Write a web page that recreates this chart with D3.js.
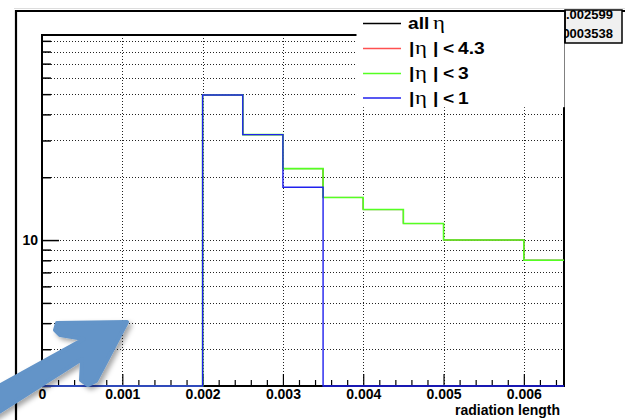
<!DOCTYPE html>
<html>
<head>
<meta charset="utf-8">
<script src="https://cdn.jsdelivr.net/npm/d3@7"></script>
<style>
  html, body { margin: 0; padding: 0; background: #fff; }
  svg { display: block; }
</style>
</head>
<body>
<script>
// Histogram bin edges (radiation length) and bin contents per eta selection
const binEdges = [0, 0.0005, 0.001, 0.0015, 0.002, 0.0025, 0.003, 0.0035, 0.004, 0.0045, 0.005, 0.0055, 0.006, 0.0065];
const allEta   = [0, 0, 0, 0, 49.5, 32, 22, 16, 14, 12, 10, 10, 8];
const eta43    = [0, 0, 0, 0, 49.5, 32, 22, 16, 14, 12, 10, 10, 8];
const eta3     = [0, 0, 0, 0, 49.5, 32, 22, 16, 14, 12, 10, 10, 8];
const eta1     = [0, 0, 0, 0, 49.5, 32, 17.9, 0, 0, 0, 0, 0, 0];

const seriesColors = ["#000000", "#ff5050", "#55ff22", "#2020ee"];
const seriesWidths = [1.0, 1.0, 1.6, 1.4];

const xMajorTicks = [0, 0.001, 0.002, 0.003, 0.004, 0.005, 0.006];
const xMajorLabels = ["0", "0.001", "0.002", "0.003", "0.004", "0.005", "0.006"];
const xMinorTicks = d3.range(1, 33).map(i => i * 0.0002).filter(v => Math.abs(v / 0.001 - Math.round(v / 0.001)) > 1e-6);
const yTicks = [2, 3, 4, 5, 6, 7, 8, 9, 10, 20, 30, 40, 50, 60, 70, 80, 90];
const yLabelled = [10];
const xTitle = "radiation length";
const statsValues = ["0.002599", "0.0003538"];
const legendCuts = [null, "4.3", "3", "1"];

const W = 625, H = 420;
const L = 42, R = 564, T = 35, B = 386;

const svg = d3.select("body").append("svg").attr("width", W).attr("height", H);

const x = d3.scaleLinear().domain([0, 0.0065]).range([L, R]);
const y = d3.scaleLog().domain([2, 96]).range([B, T]);

const sans = "'Liberation Sans', Arial, Helvetica, sans-serif";
const serif = "'Liberation Serif', 'Times New Roman', serif";

// outer canvas frame
svg.append("line").attr("x1", 14).attr("x2", W).attr("y1", 8.5).attr("y2", 8.5)
  .attr("stroke", "#dddddd").attr("stroke-width", 1);
svg.append("path").attr("d", `M16,${H} V11 H${W}`)
  .attr("fill", "none").attr("stroke", "#000").attr("stroke-width", 2.2);

// grid
const grid = svg.append("g").attr("stroke", "#222").attr("stroke-width", 1).attr("stroke-dasharray", "1,2");
grid.selectAll("line.gx").data(xMajorTicks.filter(d => d > 0)).join("line")
  .attr("x1", d => Math.round(x(d)) + 0.5).attr("x2", d => Math.round(x(d)) + 0.5)
  .attr("y1", T).attr("y2", B);
grid.selectAll("line.gy").data(yTicks).join("line")
  .attr("x1", L).attr("x2", R)
  .attr("y1", d => Math.round(y(d)) + 0.5).attr("y2", d => Math.round(y(d)) + 0.5);

// plot frame
svg.append("rect").attr("x", L).attr("y", T).attr("width", R - L).attr("height", B - T)
  .attr("fill", "none").attr("stroke", "#000").attr("stroke-width", 2);

// x axis: ticks pointing into the frame
const xAxis = d3.axisBottom(x).tickValues(xMajorTicks)
  .tickSizeInner(-12).tickSizeOuter(0).tickPadding(3)
  .tickFormat((d, i) => xMajorLabels[i]);
const gx = svg.append("g").attr("transform", `translate(0,${B})`).call(xAxis);
gx.select(".domain").remove();
gx.selectAll(".tick line").attr("stroke", "#000").attr("stroke-width", 1.2);
gx.selectAll(".tick text").attr("font-family", sans).attr("font-weight", "bold")
  .attr("font-size", 14).attr("fill", "#000");

const xMinor = d3.axisBottom(x).tickValues(xMinorTicks).tickSizeInner(-6).tickSizeOuter(0).tickFormat("");
const gxm = svg.append("g").attr("transform", `translate(0,${B})`).call(xMinor);
gxm.select(".domain").remove();
gxm.selectAll(".tick line").attr("stroke", "#000").attr("stroke-width", 1.2);

svg.append("text").attr("x", 560).attr("y", 415).attr("text-anchor", "end")
  .attr("font-family", sans).attr("font-weight", "bold").attr("font-size", 14).text(xTitle);

// y axis (log)
const yAxis = d3.axisLeft(y).tickValues(yTicks)
  .tickSizeInner(-9).tickSizeOuter(0).tickPadding(4)
  .tickFormat(d => yLabelled.includes(d) ? String(d) : "");
const gy = svg.append("g").attr("transform", `translate(${L},0)`).call(yAxis);
gy.select(".domain").remove();
gy.selectAll(".tick line").attr("stroke", "#000").attr("stroke-width", 1.5)
  .attr("x2", d => yLabelled.includes(d) ? 17 : 9);
gy.selectAll(".tick text").attr("font-family", sans).attr("font-weight", "bold")
  .attr("font-size", 14).attr("fill", "#000").attr("x", -4);

// histograms
svg.append("clipPath").attr("id", "plotClip").append("rect")
  .attr("x", L).attr("y", T).attr("width", R - L).attr("height", B - T + 1);

const step = d3.line()
  .x(d => x(d[0]))
  .y(d => d[1] > 0 ? y(d[1]) : B)
  .curve(d3.curveStepAfter);

const series = [allEta, eta43, eta3, eta1];
const hg = svg.append("g").attr("clip-path", "url(#plotClip)");
series.forEach((vals, k) => {
  const pts = binEdges.map((e, i) => [e, vals[Math.min(i, vals.length - 1)]]);
  hg.append("path").attr("d", step(pts))
    .attr("fill", "none").attr("stroke", seriesColors[k]).attr("stroke-width", seriesWidths[k]);
});

// legend
const lg = svg.append("g");
lg.append("rect").attr("x", 356.5).attr("y", 12.2).attr("width", 208).attr("height", 95)
  .attr("fill", "#fff");
const rowY = [23.5, 48.5, 73.5, 98];
function piece(txt, font, weight, px, size, yy) {
  lg.append("text")
    .attr("transform", `translate(${px},${yy}) scale(1.2,1)`)
    .attr("font-family", font).attr("font-weight", weight).attr("font-size", size)
    .attr("fill", "#000").text(txt);
}
rowY.forEach((ry, k) => {
  lg.append("line").attr("x1", 363).attr("x2", 401).attr("y1", ry).attr("y2", ry)
    .attr("stroke", seriesColors[k]).attr("stroke-width", 1.3);
  const by = ry + 5.5;
  if (legendCuts[k] === null) {
    piece("all", sans, "bold", 408, 16, by);
    piece("η", serif, "normal", 433, 19, by);
  } else {
    piece("|", sans, "bold", 409, 16, by);
    piece("η", serif, "normal", 415, 19, by);
    piece("|", sans, "bold", 433, 16, by);
    piece("<", sans, "bold", 443, 16, by);
    piece(legendCuts[k], sans, "bold", 458, 16, by);
  }
});

// statistics box
svg.append("clipPath").attr("id", "statClip").append("rect")
  .attr("x", 565).attr("y", 10).attr("width", 57).attr("height", 33);
svg.append("rect").attr("x", 565).attr("y", 10).attr("width", 57).attr("height", 33)
  .attr("fill", "#f0f0f0").attr("stroke", "#000").attr("stroke-width", 1.5);
const sg = svg.append("g").attr("clip-path", "url(#statClip)");
statsValues.forEach((s, i) => {
  sg.append("text").attr("x", 613).attr("y", 18.5 + i * 19).attr("text-anchor", "end")
    .attr("font-family", sans).attr("font-weight", "bold").attr("font-size", 13).text(s);
});
svg.append("line").attr("x1", 565).attr("x2", 565).attr("y1", 10).attr("y2", 43)
  .attr("stroke", "#000").attr("stroke-width", 1.5);

// callout arrow
const defs = svg.append("defs");
const f = defs.append("filter").attr("id", "arrowShadow")
  .attr("x", "-20%").attr("y", "-20%").attr("width", "150%").attr("height", "150%");
f.append("feDropShadow").attr("dx", 3).attr("dy", 3).attr("stdDeviation", 2.5)
  .attr("flood-color", "#000").attr("flood-opacity", 0.35);

const arrowShape = [
  [127, 322], [57, 323], [55, 330], [60, 335], [84, 339],
  [-12, 392], [-12, 419], [82, 359], [81, 380], [88, 385], [96, 381]
];
svg.append("path")
  .attr("d", d3.line().curve(d3.curveLinearClosed)(arrowShape))
  .attr("fill", "#6394c8").attr("stroke", "#6394c8").attr("stroke-width", 4)
  .attr("stroke-linejoin", "round")
  .attr("filter", "url(#arrowShadow)");
</script>
</body>
</html>
